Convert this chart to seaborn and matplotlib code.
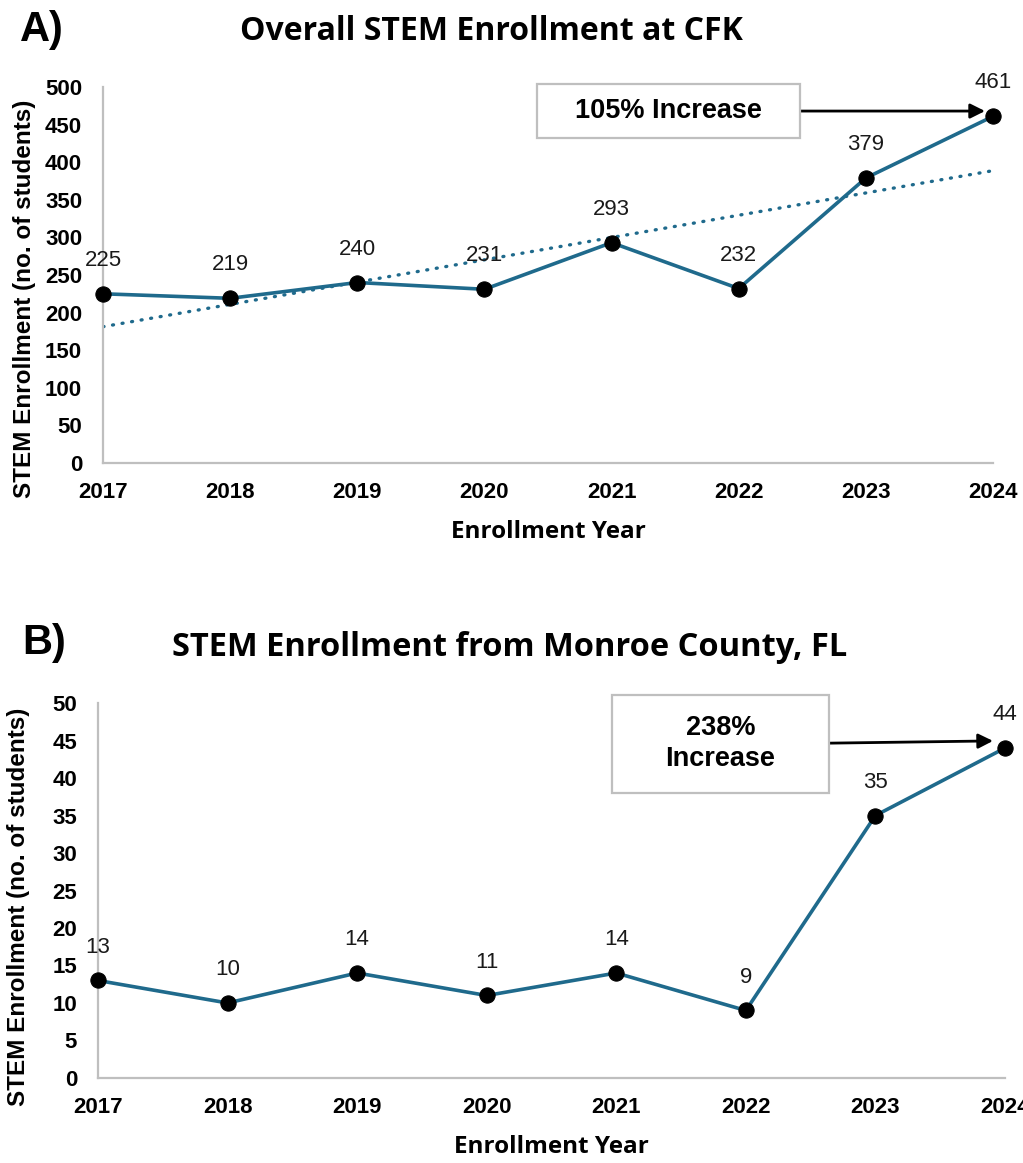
import numpy as np
import pandas as pd
import matplotlib.pyplot as plt
import seaborn as sns
from matplotlib.patches import Rectangle

# data ===============================================================
years = [2017, 2018, 2019, 2020, 2021, 2022, 2023, 2024]
overall_enroll = [225, 219, 240, 231, 293, 232, 379, 461]
monroe_enroll = [13, 10, 14, 11, 14, 9, 35, 44]
y_ticks_a = list(range(0, 501, 50))
y_ticks_b = list(range(0, 51, 5))

LINE = '#1f6a8c'
SPINE = '#bfbfbf'
HEAD_FONT = 'Open Sans'

sns.set_theme(style='white')
plt.rcParams['font.family'] = ['Liberation Sans', 'DejaVu Sans']
plt.rcParams['text.color'] = 'black'
plt.rcParams['axes.labelcolor'] = 'black'
plt.rcParams['xtick.color'] = 'black'
plt.rcParams['ytick.color'] = 'black'

df = pd.DataFrame({'year': years, 'overall': overall_enroll, 'monroe': monroe_enroll})

fig = plt.figure(figsize=(10.23, 11.63), dpi=100)
ax_a = fig.add_axes([0.1007, 0.6019, 0.870, 0.3233])
ax_b = fig.add_axes([0.0958, 0.0731, 0.8866, 0.3224])


def style_axes(ax, yticks, ylab_y):
    ax.set_xlim(2017, 2024)
    ax.set_ylim(yticks[0], yticks[-1])
    ax.set_xticks(years)
    ax.set_xticklabels([str(y) for y in years], fontweight='bold', fontsize=16)
    ax.set_yticks(yticks)
    ax.set_yticklabels([str(t) for t in yticks], fontweight='bold', fontsize=16)
    ax.tick_params(axis='x', length=0, pad=14)
    ax.tick_params(axis='y', length=0, pad=15)
    for s in ['top', 'right']:
        ax.spines[s].set_visible(False)
    for s in ['left', 'bottom']:
        ax.spines[s].set_color(SPINE)
        ax.spines[s].set_linewidth(1.6)
    ax.set_xlabel('Enrollment Year', fontsize=17.5, fontweight='bold', family=HEAD_FONT, labelpad=12)
    ax.set_ylabel('STEM Enrollment (no. of students)', fontsize=17.5, fontweight='bold')
    ax.yaxis.set_label_coords(-0.075, ylab_y)
    ax.grid(False)


def draw_series(ax, col):
    sns.lineplot(data=df, x='year', y=col, ax=ax, color=LINE, lw=2.6,
                 marker='o', markersize=11, markerfacecolor='black',
                 markeredgecolor='black', clip_on=False, zorder=3)
    for x, v in zip(df['year'], df[col]):
        ax.annotate(str(v), (x, v), xytext=(0, 24), textcoords='offset points',
                    ha='center', va='center', fontsize=16, color='#1a1a1a')


# Panel A ============================================================
sns.regplot(data=df, x='year', y='overall', ax=ax_a, scatter=False, ci=None,
            truncate=True,
            line_kws=dict(color=LINE, lw=2.4, dashes=(0.3, 2.6),
                          dash_capstyle='round'))
draw_series(ax_a, 'overall')
style_axes(ax_a, y_ticks_a, 0.436)

ax_a.add_patch(Rectangle((0.4876, 0.864), 0.2955, 0.144, transform=ax_a.transAxes,
                         facecolor='white', edgecolor=SPINE, lw=1.6, clip_on=False, zorder=4))
ax_a.text(0.635, 0.936, '105% Increase', transform=ax_a.transAxes, ha='center', va='center',
          fontsize=19.5, fontweight='bold', zorder=5)
ax_a.annotate('', xy=(0.991, 0.936), xytext=(0.783, 0.936),
              xycoords='axes fraction', textcoords='axes fraction',
              arrowprops=dict(arrowstyle='-|>', color='black', lw=2, mutation_scale=22,
                              shrinkA=0, shrinkB=0))

# Panel B ============================================================
draw_series(ax_b, 'monroe')
style_axes(ax_b, y_ticks_b, 0.456)

ax_b.add_patch(Rectangle((0.5667, 0.76), 0.2393, 0.261, transform=ax_b.transAxes,
                         facecolor='white', edgecolor=SPINE, lw=1.6, clip_on=False, zorder=4))
ax_b.text(0.6863, 0.891, '238%\nIncrease', transform=ax_b.transAxes, ha='center', va='center',
          fontsize=19.5, fontweight='bold', linespacing=1.25, zorder=5)
ax_b.annotate('', xy=(0.9868, 0.899), xytext=(0.806, 0.893),
              xycoords='axes fraction', textcoords='axes fraction',
              arrowprops=dict(arrowstyle='-|>', color='black', lw=2, mutation_scale=22,
                              shrinkA=0, shrinkB=0))

# titles =============================================================
fig.text(20 / 1023, 1 - 30 / 1163, 'A)', fontsize=30, fontweight='bold', va='center', ha='left')
fig.text(491 / 1023, 1 - 31 / 1163, 'Overall STEM Enrollment at CFK', family=HEAD_FONT,
         fontsize=23, fontweight='bold', va='center', ha='center')
fig.text(22 / 1023, 1 - 643 / 1163, 'B)', fontsize=30, fontweight='bold', va='center', ha='left')
fig.text(510 / 1023, 1 - 648 / 1163, 'STEM Enrollment from Monroe County, FL', family=HEAD_FONT,
         fontsize=23.5, fontweight='bold', va='center', ha='center')

fig.savefig('out.png', dpi=100, facecolor='white')
